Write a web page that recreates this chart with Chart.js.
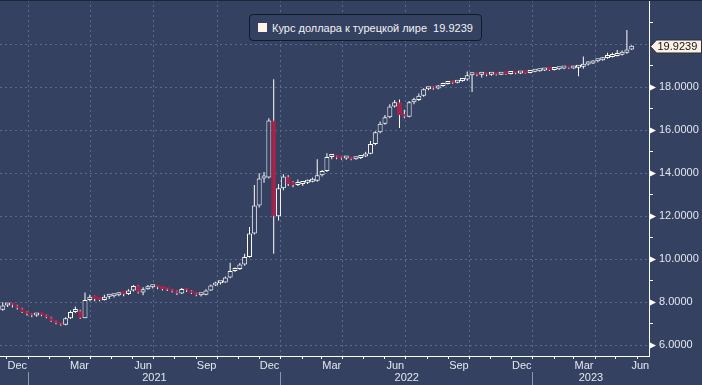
<!DOCTYPE html>
<html>
<head>
<meta charset="utf-8">
<script src="https://cdn.jsdelivr.net/npm/chart.js@4.4.1/dist/chart.umd.min.js"></script>
<style>
  html, body { margin: 0; padding: 0; background: #344161; }
  #wrap { position: relative; width: 702px; height: 385px; overflow: hidden; }
  #topline { position: absolute; left: 0; top: 0; width: 702px; height: 1px; background: #1d2538; }
  #legend { position: absolute; left: 249px; top: 14px; width: 231px; height: 25px;
    border: 1px solid #121a2c; border-radius: 4px; background: #344161;
    font: 11px "Liberation Sans", Arial, sans-serif; color: #f2f2f2; white-space: pre; }
  #legend .box { position: absolute; left: 8px; top: 8px; width: 9px; height: 9px; background: #fff3ec; }
  #legend .txt { position: absolute; left: 22px; top: 6px; line-height: 14px; }
</style>
</head>
<body>
<div id="wrap">
  <canvas id="chart" width="702" height="385"></canvas>
  <div id="topline"></div>
  <div id="legend"><span class="box"></span><span class="txt" id="ltxt"></span></div>
</div>
<script>
// weekly USD/TRY candles, week starting Monday firstWeek; open = previous close
const firstWeek = '2020-11-23';
const firstOpen = 7.65;
const closes = [
  7.85, 7.88, 7.85, 7.72, 7.55, 7.44, 7.38, 7.42, 7.40, 7.30,
  7.12, 7.02, 6.95, 7.25, 7.55, 7.62, 7.25, 8.10, 8.25, 8.15,
  8.10, 8.25, 8.28, 8.32, 8.40, 8.38, 8.55, 8.75, 8.45, 8.60,
  8.70, 8.72, 8.68, 8.62, 8.58, 8.50, 8.40, 8.62, 8.55, 8.42,
  8.32, 8.35, 8.55, 8.78, 8.88, 8.92, 9.15, 9.45, 9.55, 9.75,
  10.10, 11.20, 12.50, 13.75, 13.80, 16.45, 12.00, 13.30, 13.85, 13.50,
  13.45, 13.50, 13.55, 13.60, 13.65, 13.90, 14.10, 14.75, 14.78, 14.72,
  14.68, 14.70, 14.65, 14.70, 14.78, 14.90, 15.35, 15.90, 16.30, 16.60,
  17.10, 17.30, 16.70, 16.62, 17.30, 17.40, 17.60, 17.90, 17.95, 17.93,
  18.05, 18.15, 18.22, 18.20, 18.28, 18.35, 18.55, 18.60, 18.58, 18.60,
  18.57, 18.60, 18.58, 18.62, 18.61, 18.64, 18.63, 18.67, 18.66, 18.71,
  18.74, 18.77, 18.80, 18.79, 18.83, 18.86, 18.88, 18.87, 18.90, 18.95,
  19.05, 19.10, 19.20, 19.25, 19.35, 19.40, 19.45, 19.50, 19.60, 19.75,
  19.9239
];
const highs = [
  8.00, 7.95, 7.95, 7.88, 7.74, 7.58, 7.50, 7.47, 7.46, 7.43,
  7.33, 7.14, 7.05, 7.30, 7.62, 7.80, 7.65, 8.45, 8.35, 8.30,
  8.20, 8.35, 8.35, 8.38, 8.45, 8.44, 8.60, 8.80, 8.78, 8.70,
  8.80, 8.78, 8.76, 8.70, 8.66, 8.62, 8.54, 8.66, 8.64, 8.57,
  8.45, 8.40, 8.60, 8.82, 8.95, 8.98, 9.20, 9.84, 9.62, 9.82,
  10.25, 11.50, 13.45, 14.00, 14.05, 16.55, 18.37, 13.50, 13.95, 13.90,
  13.62, 13.70, 13.62, 13.70, 13.80, 14.65, 14.15, 14.93, 14.85, 14.85,
  14.80, 14.77, 14.75, 14.77, 14.82, 15.00, 15.50, 15.95, 16.40, 16.70,
  17.20, 17.40, 17.42, 16.95, 17.35, 17.50, 17.70, 17.95, 18.00, 18.05,
  18.10, 18.20, 18.25, 18.30, 18.30, 18.38, 18.73, 18.65, 18.66, 18.68,
  18.65, 18.65, 18.64, 18.66, 18.67, 18.68, 18.70, 18.72, 18.73, 18.76,
  18.78, 18.80, 18.83, 18.84, 18.86, 18.90, 18.92, 18.95, 18.98, 19.00,
  19.42, 19.20, 19.25, 19.30, 19.40, 19.60, 19.60, 19.73, 19.70, 20.66,
  19.95
];
const lows = [
  7.60, 7.78, 7.76, 7.66, 7.50, 7.38, 7.30, 7.33, 7.35, 7.25,
  7.08, 6.98, 6.91, 6.93, 7.22, 7.50, 7.22, 7.25, 8.05, 8.05,
  8.04, 8.08, 8.15, 8.22, 8.28, 8.28, 8.34, 8.50, 8.40, 8.33,
  8.58, 8.64, 8.60, 8.55, 8.52, 8.45, 8.34, 8.38, 8.48, 8.38,
  8.28, 8.27, 8.33, 8.52, 8.75, 8.82, 8.90, 9.12, 9.40, 9.50,
  9.70, 10.08, 11.15, 12.40, 13.55, 13.75, 10.25, 11.80, 13.20, 13.40,
  13.35, 13.40, 13.40, 13.50, 13.58, 13.60, 13.84, 14.05, 14.65, 14.65,
  14.62, 14.62, 14.60, 14.62, 14.66, 14.75, 14.88, 15.30, 15.85, 16.25,
  16.55, 17.05, 16.10, 16.55, 16.60, 17.20, 17.35, 17.55, 17.85, 17.88,
  17.90, 18.02, 18.12, 18.16, 18.18, 18.25, 18.30, 17.77, 18.50, 18.45,
  18.50, 18.53, 18.54, 18.56, 18.58, 18.59, 18.60, 18.61, 18.63, 18.64,
  18.69, 18.72, 18.75, 18.76, 18.77, 18.80, 18.83, 18.84, 18.85, 18.50,
  18.85, 19.00, 19.08, 19.16, 19.22, 19.32, 19.38, 19.42, 19.47, 19.55,
  19.72
];

const monthLabels = ['Dec', 'Mar', 'Jun', 'Sep', 'Dec', 'Mar', 'Jun', 'Sep', 'Dec', 'Mar', 'Jun'];
const monthLabelMonths = ['2020-12', '2021-03', '2021-06', '2021-09', '2021-12', '2022-03',
  '2022-06', '2022-09', '2022-12', '2023-03', '2023-06'];
const yearLabels = ['2021', '2022', '2023'];
const yTicks = [6, 7, 8, 9, 10, 11, 12, 13, 14, 15, 16, 17, 18, 19, 20, 21];
const legendName = 'Курс доллара к турецкой лире';

const BG = '#344161';
const RED = '#a4244a';
const GRID = '#5a6a8e';
const LABEL = '#e4e7ee';
const FONT = '"Liberation Sans", Arial, sans-serif';

const DAY = 86400000;
const origin = Date.UTC(2021, 0, 1);
function dayOf(s) {
  const [y, m, d] = s.split('-').map(Number);
  return (Date.UTC(y, m - 1, d || 1) - origin) / DAY;
}

const xMin = dayOf('2020-11-21');
const xMax = dayOf('2023-06-18');

const start = dayOf(firstWeek);
const opens = closes.map((c, i) => i === 0 ? firstOpen : closes[i - 1]);
const xs = closes.map((c, i) => start + 7 * i + 2);
const up = closes.map((c, i) => c >= opens[i]);
const bodies = closes.map((c, i) => ({ x: xs[i], y: [opens[i], c] }));
const wicks = closes.map((c, i) => ({ x: xs[i], y: [lows[i], highs[i]] }));
const lastClose = closes[closes.length - 1];

document.getElementById('ltxt').textContent = legendName + '  ' + lastClose.toFixed(4);

// month start ticks, quarter gridlines
const monthStarts = [];
const quarterDays = new Set();
for (let y = 2020, m = 11; ; m++) {
  if (m > 11) { m = 0; y++; }
  const d = (Date.UTC(y, m, 1) - origin) / DAY;
  monthStarts.push(d);
  if (m % 3 === 0) quarterDays.add(d);
  if (y === 2023 && m === 5) break;
}

const monthLabelDays = monthLabelMonths.map(s => Math.min(dayOf(s + '-16'), xMax - 12.5));

const yearBounds = yearLabels.map(y => dayOf(y + '-01-01'));
const yearTicks = [];
const yearTickLabels = [];
yearBounds.forEach((b, i) => {
  const end = i < yearBounds.length - 1 ? yearBounds[i + 1] : xMax;
  yearTicks.push(b); yearTickLabels.push('');
  yearTicks.push((b + end) / 2); yearTickLabels.push(yearLabels[i]);
});
const boundarySet = new Set(yearBounds);

const axisMarks = {
  id: 'axisMarks',
  afterDraw(chart) {
    const { ctx, chartArea } = chart;
    const y = chart.scales.y;
    const r = chartArea.right;
    ctx.save();
    ctx.fillStyle = '#ffffff';
    y.ticks.forEach(t => {
      if (t.value % 2 || t.value > 18) return;
      const py = Math.round(y.getPixelForValue(t.value)) + 0.5;
      ctx.beginPath();
      ctx.moveTo(r, py - 3.5);
      ctx.lineTo(r + 7, py);
      ctx.lineTo(r, py + 3.5);
      ctx.closePath();
      ctx.fill();
    });
    const py = Math.round(y.getPixelForValue(lastClose)) + 0.5;
    const x0 = r + 1.5;
    ctx.beginPath();
    ctx.moveTo(x0, py);
    ctx.lineTo(x0 + 6, py - 6.5);
    ctx.lineTo(701.5, py - 6.5);
    ctx.lineTo(701.5, py + 6.5);
    ctx.lineTo(x0 + 6, py + 6.5);
    ctx.closePath();
    ctx.fillStyle = '#fcf0e4';
    ctx.fill();
    ctx.strokeStyle = '#2a2f3a';
    ctx.lineWidth = 1;
    ctx.stroke();
    ctx.fillStyle = '#151515';
    ctx.font = '11px ' + FONT;
    ctx.textBaseline = 'middle';
    ctx.fillText(lastClose.toFixed(4), x0 + 7, py + 0.5);
    ctx.restore();
  }
};

function noPad(s) { s.paddingTop = 0; s.paddingBottom = 0; s.paddingLeft = 0; s.paddingRight = 0; }

const xBase = { type: 'linear', axis: 'x', position: 'bottom', min: xMin, max: xMax, offset: false, bounds: 'data' };

new Chart(document.getElementById('chart'), {
  type: 'bar',
  data: {
    datasets: [
      {
        label: 'body',
        data: bodies,
        order: 0,
        grouped: false,
        barThickness: 5,
        borderWidth: 1,
        borderSkipped: false,
        minBarLength: 3,
        inflateAmount: 0,
        backgroundColor: c => up[c.dataIndex] ? BG : RED,
        borderColor: c => up[c.dataIndex] ? '#ffffff' : RED,
        xAxisID: 'x',
        yAxisID: 'y'
      },
      {
        label: 'wick',
        data: wicks,
        order: 1,
        grouped: false,
        barThickness: 1,
        borderWidth: 0,
        inflateAmount: 0,
        backgroundColor: '#ffffff',
        xAxisID: 'x',
        yAxisID: 'y'
      }
    ]
  },
  options: {
    responsive: false,
    animation: false,
    events: [],
    layout: { padding: 0 },
    plugins: { legend: { display: false }, tooltip: { enabled: false } },
    scales: {
      x: {
        ...xBase,
        afterBuildTicks: s => { s.ticks = monthStarts.map(v => ({ value: v })); },
        afterFit: s => { s.height = 3; noPad(s); },
        grid: {
          offset: false,
          color: c => (c.tick && quarterDays.has(c.tick.value)) ? GRID : 'transparent',
          lineWidth: 1, drawTicks: true, tickLength: 3, tickColor: '#ffffff', tickWidth: 1, tickBorderDash: []
        },
        border: { display: true, color: '#ffffff', width: 1, dash: [2, 3] },
        ticks: { display: false, autoSkip: false }
      },
      xm: {
        ...xBase,
        afterBuildTicks: s => { s.ticks = monthLabelDays.map(v => ({ value: v })); },
        afterFit: s => { s.height = 13; noPad(s); },
        grid: { display: false, drawTicks: false, offset: false },
        border: { display: false },
        ticks: {
          autoSkip: false, maxRotation: 0, padding: 0, color: LABEL,
          font: { family: FONT, size: 11 },
          callback: (v, i) => monthLabels[i]
        }
      },
      xy: {
        ...xBase,
        afterBuildTicks: s => { s.ticks = yearTicks.map(v => ({ value: v })); },
        afterFit: s => { s.height = 13; noPad(s); },
        grid: {
          offset: false, drawOnChartArea: false, drawTicks: true, tickLength: 16, color: 'transparent',
          tickColor: c => (c.tick && boundarySet.has(c.tick.value)) ? '#8e97ab' : 'transparent',
          tickWidth: 1, tickBorderDash: []
        },
        border: { display: false },
        ticks: {
          autoSkip: false, maxRotation: 0, padding: -17, color: LABEL,
          font: { family: FONT, size: 11 },
          callback: (v, i) => yearTickLabels[i]
        }
      },
      y: {
        type: 'linear', position: 'right', min: 5.5, max: 22.05,
        afterBuildTicks: s => { s.ticks = yTicks.map(v => ({ value: v })); },
        afterFit: s => { s.width = 53; noPad(s); },
        grid: {
          color: c => (c.tick && c.tick.value % 2 === 0) ? GRID : 'transparent',
          drawTicks: true, tickLength: 4,
          tickColor: c => (c.tick && c.tick.value % 2) ? '#ffffff' : 'transparent',
          tickBorderDash: []
        },
        border: { display: true, color: '#ffffff', width: 1, dash: [2, 3] },
        ticks: {
          autoSkip: false, padding: 6, color: LABEL,
          font: { family: FONT, size: 11 },
          callback: v => (v % 2 === 0 && v <= 18) ? v.toFixed(4) : ''
        }
      }
    }
  },
  plugins: [axisMarks]
});
</script>
</body>
</html>
